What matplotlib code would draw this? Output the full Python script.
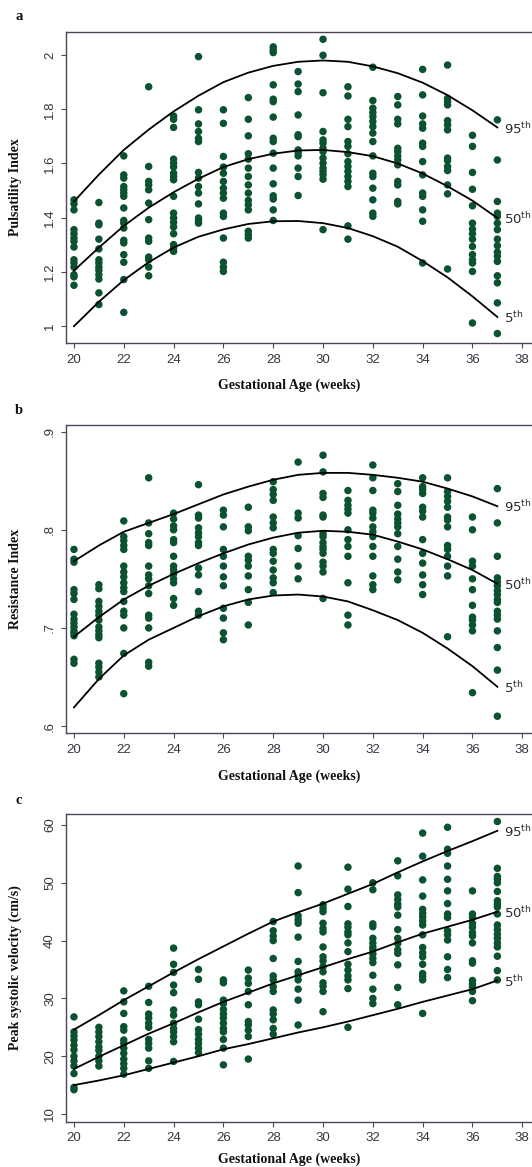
import matplotlib
matplotlib.use("Agg")
from matplotlib import pyplot

# gestational weeks (one column of dots per week)
weeks = list(range(20, 38))

# ---- panel a: pulsatility index ----
pi_points = [
    [1.466, 1.451, 1.429, 1.356, 1.341, 1.325, 1.313, 1.292, 1.245, 1.233, 1.218, 1.190, 1.182, 1.151],
    [1.456, 1.380, 1.374, 1.321, 1.285, 1.245, 1.233, 1.218, 1.206, 1.190, 1.174, 1.123, 1.080],
    [1.628, 1.558, 1.546, 1.515, 1.503, 1.491, 1.479, 1.436, 1.390, 1.380, 1.362, 1.317, 1.307, 1.264, 1.236, 1.172, 1.051],
    [1.883, 1.589, 1.534, 1.521, 1.503, 1.454, 1.393, 1.325, 1.313, 1.255, 1.245, 1.218, 1.186],
    [1.775, 1.763, 1.733, 1.616, 1.601, 1.587, 1.564, 1.552, 1.540, 1.479, 1.417, 1.399, 1.383, 1.366, 1.341, 1.301, 1.288, 1.276],
    [1.994, 1.798, 1.746, 1.718, 1.693, 1.681, 1.567, 1.546, 1.515, 1.491, 1.451, 1.399, 1.390, 1.380],
    [1.798, 1.748, 1.626, 1.587, 1.564, 1.534, 1.509, 1.491, 1.472, 1.417, 1.405, 1.325, 1.236, 1.218, 1.202],
    [1.843, 1.763, 1.702, 1.636, 1.616, 1.583, 1.552, 1.521, 1.491, 1.464, 1.448, 1.429, 1.350, 1.337, 1.325],
    [2.030, 2.018, 2.009, 1.890, 1.837, 1.828, 1.771, 1.693, 1.681, 1.638, 1.583, 1.525, 1.481, 1.469, 1.429, 1.390],
    [1.939, 1.893, 1.865, 1.779, 1.706, 1.699, 1.650, 1.640, 1.628, 1.583, 1.552, 1.482],
    [2.058, 1.999, 1.861, 1.718, 1.687, 1.675, 1.656, 1.644, 1.620, 1.601, 1.583, 1.571, 1.558, 1.542, 1.356],
    [1.883, 1.849, 1.763, 1.736, 1.681, 1.663, 1.636, 1.607, 1.589, 1.571, 1.552, 1.534, 1.515, 1.370, 1.321],
    [1.955, 1.832, 1.804, 1.788, 1.773, 1.755, 1.736, 1.712, 1.681, 1.628, 1.564, 1.552, 1.509, 1.466, 1.417, 1.405],
    [1.847, 1.816, 1.763, 1.746, 1.656, 1.644, 1.628, 1.613, 1.595, 1.534, 1.521, 1.460, 1.451],
    [1.947, 1.853, 1.775, 1.746, 1.730, 1.675, 1.663, 1.607, 1.558, 1.491, 1.479, 1.429, 1.387, 1.233],
    [1.963, 1.840, 1.828, 1.816, 1.758, 1.742, 1.724, 1.620, 1.611, 1.589, 1.574, 1.521, 1.488, 1.211],
    [1.704, 1.663, 1.567, 1.505, 1.444, 1.380, 1.358, 1.341, 1.321, 1.294, 1.264, 1.245, 1.233, 1.202, 1.012],
    [1.761, 1.613, 1.460, 1.417, 1.405, 1.380, 1.356, 1.321, 1.297, 1.273, 1.258, 1.239, 1.186, 1.160, 1.086, 0.973],
]
pi_p95 = [1.460, 1.559, 1.650, 1.725, 1.792, 1.850, 1.900, 1.935, 1.960, 1.975,
          1.980, 1.975, 1.958, 1.933, 1.898, 1.852, 1.796, 1.733]
pi_p50 = [1.205, 1.290, 1.370, 1.437, 1.494, 1.544, 1.587, 1.616, 1.636, 1.648,
          1.650, 1.642, 1.627, 1.600, 1.563, 1.516, 1.463, 1.399]
pi_p5 = [1.000, 1.090, 1.170, 1.236, 1.290, 1.330, 1.357, 1.377, 1.387, 1.388,
         1.380, 1.362, 1.332, 1.293, 1.240, 1.180, 1.110, 1.034]
pi_ticks = [1.0, 1.2, 1.4, 1.6, 1.8, 2.0]
pi_ticklabels = ["1", "1.2", "1.4", "1.6", "1.8", "2"]

# ---- panel b: resistance index ----
ri_points = [
    [.780, .770, .767, .739, .735, .729, .714, .709, .705, .701, .697, .695, .692, .668, .664],
    [.744, .740, .727, .722, .717, .713, .708, .701, .697, .693, .690, .664, .660, .655, .650],
    [.809, .793, .789, .784, .780, .763, .757, .752, .746, .741, .737, .727, .717, .713, .700, .674, .633],
    [.853, .807, .796, .787, .784, .763, .754, .750, .743, .735, .713, .710, .700, .665, .661],
    [.817, .811, .804, .800, .790, .787, .773, .763, .759, .755, .750, .746, .730, .723],
    [.846, .815, .812, .802, .797, .793, .787, .784, .761, .754, .737, .717, .713],
    [.820, .815, .803, .780, .773, .763, .752, .743, .720, .710, .695, .688],
    [.823, .803, .799, .773, .769, .763, .753, .739, .726, .703],
    [.849, .841, .836, .830, .813, .807, .802, .780, .776, .768, .759, .751, .746, .736],
    [.869, .817, .812, .794, .781, .763, .750],
    [.876, .859, .837, .833, .815, .813, .796, .793, .787, .783, .780, .776, .767, .763, .757, .730],
    [.840, .830, .825, .821, .817, .800, .790, .783, .773, .746, .713, .703],
    [.866, .853, .840, .820, .817, .812, .803, .798, .793, .783, .773, .753, .744, .739],
    [.847, .839, .825, .816, .811, .807, .803, .796, .783, .770, .757, .749],
    [.853, .844, .841, .837, .823, .819, .813, .790, .776, .766, .754, .744, .734],
    [.853, .839, .834, .829, .823, .813, .810, .803, .784, .780, .773, .763, .753, .691],
    [.813, .800, .768, .763, .750, .739, .723, .711, .708, .703, .697, .634],
    [.842, .807, .773, .751, .747, .743, .738, .734, .729, .726, .717, .713, .709, .697, .680, .657, .610],
]
ri_p95 = [.768, .784, .798, .807, .816, .826, .836, .844, .851, .856,
          .858, .858, .856, .853, .849, .842, .834, .824]
ri_p50 = [.691, .711, .729, .743, .755, .766, .776, .785, .792, .797,
          .799, .798, .795, .788, .780, .770, .759, .745]
ri_p5 = [.619, .648, .672, .688, .700, .712, .722, .729, .733, .734,
         .732, .727, .718, .708, .695, .679, .661, .640]
ri_ticks = [.6, .7, .8, .9]
ri_ticklabels = [".6", ".7", ".8", ".9"]

# ---- panel c: peak systolic velocity ----
psv_points = [
    [26.8, 24.2, 23.5, 22.8, 21.9, 21.1, 20.0, 19.2, 18.3, 17.0, 14.6, 14.2],
    [25.0, 24.2, 23.4, 22.5, 21.6, 21.0, 20.0, 19.2, 18.3],
    [31.3, 29.4, 27.4, 25.1, 24.5, 22.8, 22.2, 21.4, 20.5, 19.5, 18.7, 17.9, 16.9],
    [32.1, 29.3, 27.3, 26.6, 25.7, 25.0, 22.9, 22.2, 21.4, 19.2, 17.9],
    [38.7, 35.9, 34.5, 32.3, 31.0, 28.0, 27.1, 25.7, 24.8, 24.2, 23.4, 22.5, 19.1],
    [35.0, 33.3, 29.4, 28.9, 26.4, 24.6, 23.8, 22.9, 22.2, 21.4, 20.6],
    [33.2, 32.7, 29.7, 29.1, 28.1, 27.3, 26.6, 25.7, 24.8, 24.2, 22.9, 21.4, 18.5],
    [34.9, 33.5, 32.6, 31.2, 28.9, 26.0, 25.4, 24.5, 23.4, 19.5],
    [43.3, 41.7, 40.8, 40.0, 36.9, 33.9, 33.2, 32.0, 31.2, 28.0, 27.3, 26.3, 24.8, 23.8],
    [52.9, 48.3, 44.3, 43.6, 43.0, 40.6, 36.4, 34.6, 34.0, 33.2, 31.6, 29.7, 25.4],
    [46.2, 45.6, 45.0, 43.0, 42.1, 41.5, 38.9, 37.2, 36.5, 35.5, 34.6, 32.7, 32.1, 31.2, 27.7],
    [52.7, 48.9, 45.9, 42.9, 42.3, 41.5, 41.0, 39.6, 38.1, 35.9, 34.9, 33.9, 33.2, 31.7, 25.0],
    [50.0, 48.8, 42.9, 42.4, 40.4, 39.6, 38.9, 38.4, 37.7, 36.9, 36.2, 34.0, 31.6, 30.0, 29.1],
    [53.8, 51.2, 47.9, 47.1, 46.3, 45.8, 44.4, 41.9, 40.4, 39.5, 38.4, 37.8, 35.8, 31.9, 28.9],
    [58.6, 54.6, 50.5, 47.7, 45.4, 44.7, 44.1, 43.4, 42.7, 41.0, 38.8, 37.9, 37.2, 35.9, 34.3, 33.8, 33.2, 27.4],
    [59.6, 55.8, 55.1, 52.9, 50.6, 48.6, 46.4, 44.6, 44.0, 41.7, 41.0, 40.1, 37.2, 35.0, 33.6],
    [48.6, 44.6, 44.0, 43.0, 42.3, 41.4, 40.8, 39.6, 36.5, 36.1, 33.1, 32.5, 31.9, 31.2, 29.6],
    [60.6, 52.5, 51.1, 50.6, 50.0, 48.5, 46.9, 46.3, 45.8, 44.6, 42.7, 41.9, 41.1, 40.4, 39.6, 38.9, 37.3, 34.8, 33.2],
]
psv_p95 = [24.6, 27.1, 29.7, 32.1, 34.5, 36.8, 39.0, 41.2, 43.3, 44.9,
           46.4, 48.1, 49.8, 51.8, 53.7, 55.5, 57.2, 59.0]
psv_p50 = [17.8, 19.9, 21.9, 23.9, 25.7, 27.6, 29.4, 31.0, 32.6, 34.0,
           35.4, 36.8, 38.1, 39.7, 41.2, 42.4, 43.6, 45.0]
psv_p5 = [15.0, 15.8, 16.7, 17.8, 18.9, 20.0, 21.2, 22.1, 23.1, 24.1,
          25.0, 26.0, 27.1, 28.2, 29.4, 30.5, 31.6, 33.1]
psv_ticks = [10, 20, 30, 40, 50, 60]
psv_ticklabels = ["10", "20", "30", "40", "50", "60"]

xticks = list(range(20, 39, 2))
percentile_labels = ["5", "50", "95"]

DOT = "#0b5230"
FRAME = "#4f4358"
TICKTXT = "#3b3340"
SERIF = "Liberation Serif"
SANS = "Liberation Sans"

W, H = 532., 1167.


def draw_panel(fig, top, bottom, points, p5, p50, p95, ylim, yticks, yticklabels,
               ylabel, letter, letter_y, xlabel_y):
    """Draw one scatter panel with its three percentile curves."""

    ax = fig.add_axes([66/W, 1-bottom/H, 1-66/W, (bottom-top)/H])

    xs, ys = [], []
    for wk, vals in zip(weeks, points):
        xs += [wk]*len(vals)
        ys += vals
    ax.scatter(xs, ys, s=29, color=DOT, edgecolors="none", zorder=2)

    for curve, name in zip([p5, p50, p95], percentile_labels):
        ax.plot(weeks, curve, color="black", lw=1.3, zorder=3)
        ax.annotate(name + r"$^{\mathrm{th}}$", xy=(weeks[-1], curve[-1]),
                    xytext=(4.5, -4.5), textcoords="offset points",
                    ha="left", va="baseline", fontsize=9.5, color="#2a2a2a",
                    family="DejaVu Sans", annotation_clip=False)

    ax.set_xlim(19.68, 38.39)
    ax.set_ylim(*ylim)
    ax.set_xticks(xticks)
    ax.set_xticklabels([str(t) for t in xticks], family=SANS, fontsize=9.5,
                       color=TICKTXT)
    ax.set_yticks(yticks)
    ax.set_yticklabels(yticklabels, family=SANS, fontsize=9.5, color=TICKTXT,
                       rotation=90, va="center")
    ax.tick_params(direction="out", length=3.6, width=0.8, color=FRAME)
    ax.tick_params(axis="x", pad=4)
    ax.tick_params(axis="y", pad=3.5)

    ax.spines["right"].set_visible(False)
    for side in ["left", "top", "bottom"]:
        ax.spines[side].set_color(FRAME)
        ax.spines[side].set_linewidth(1.0)

    # panel letter, axis titles
    fig.text(19/W, 1-letter_y/H, letter, family=SERIF, weight="bold",
             fontsize=10.5, ha="center", va="center", color="#111111")
    fig.text(15.5/W, 1-(top+bottom)/2/H, ylabel, family=SERIF, weight="bold",
             fontsize=10, rotation=90, ha="center", va="center", color="#111111")
    fig.text(289/W, 1-xlabel_y/H, "Gestational Age (weeks)", family=SERIF,
             weight="bold", fontsize=10, ha="center", va="center", color="#111111")

    return ax


if __name__ == "__main__":

    fig = pyplot.figure(figsize=(W/100, H/100), dpi=100)

    draw_panel(fig, 31.7, 343.3, pi_points, pi_p5, pi_p50, pi_p95,
               (0.937, 2.086), pi_ticks, pi_ticklabels,
               "Pulsatility Index", "a", 17, 385)
    draw_panel(fig, 425, 733.3, ri_points, ri_p5, ri_p50, ri_p95,
               (0.5926, 0.9068), ri_ticks, ri_ticklabels,
               "Resistance Index", "b", 410, 776)
    draw_panel(fig, 814, 1121.7, psv_points, psv_p5, psv_p50, psv_p95,
               (8.67, 61.9), psv_ticks, psv_ticklabels,
               "Peak systolic velocity (cm/s)", "c", 800, 1159)

    fig.savefig("out.png", dpi=100)
    pyplot.close(fig)
